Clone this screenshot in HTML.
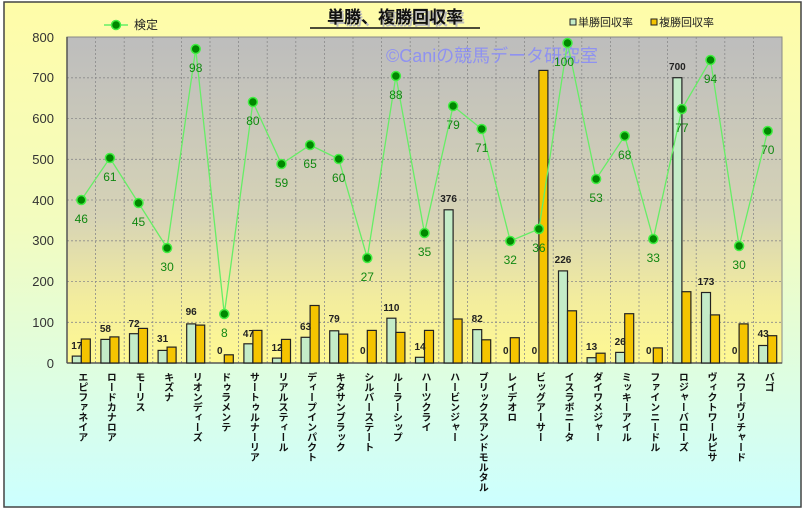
<!DOCTYPE html>
<html><head><meta charset="utf-8"><style>
body{margin:0;width:805px;height:509px;overflow:hidden;background:#fff}
text{font-family:"Liberation Sans","Noto Sans CJK JP",sans-serif}
</style></head><body>
<svg width="805" height="509" viewBox="0 0 805 509" xmlns="http://www.w3.org/2000/svg">
<defs>
<linearGradient id="bg" x1="0" y1="0" x2="0" y2="1"><stop offset="0" stop-color="#fffca8"/><stop offset="0.45" stop-color="#f2fcc0"/><stop offset="1" stop-color="#ccffff"/></linearGradient>
<linearGradient id="pa" x1="0" y1="0" x2="0" y2="1"><stop offset="0" stop-color="#bdbdbd"/><stop offset="0.55" stop-color="#d6d3b6"/><stop offset="0.8" stop-color="#f2ec9e"/><stop offset="1" stop-color="#fff992"/></linearGradient>
</defs>
<rect x="4" y="2" width="797" height="505" fill="url(#bg)" stroke="#444" stroke-width="1.5"/>
<rect x="67" y="37" width="715" height="326" fill="url(#pa)" stroke="#888" stroke-width="1"/>
<g stroke="#8a8a8a" stroke-dasharray="2,2" stroke-width="0.8">
<line x1="67" y1="77.8" x2="782" y2="77.8"/><line x1="67" y1="118.5" x2="782" y2="118.5"/><line x1="67" y1="159.3" x2="782" y2="159.3"/><line x1="67" y1="200" x2="782" y2="200"/><line x1="67" y1="240.8" x2="782" y2="240.8"/><line x1="67" y1="281.5" x2="782" y2="281.5"/><line x1="67" y1="322.3" x2="782" y2="322.3"/>
<line x1="95.6" y1="37" x2="95.6" y2="363"/><line x1="124.2" y1="37" x2="124.2" y2="363"/><line x1="152.8" y1="37" x2="152.8" y2="363"/><line x1="181.4" y1="37" x2="181.4" y2="363"/><line x1="210" y1="37" x2="210" y2="363"/><line x1="238.6" y1="37" x2="238.6" y2="363"/><line x1="267.2" y1="37" x2="267.2" y2="363"/><line x1="295.8" y1="37" x2="295.8" y2="363"/><line x1="324.4" y1="37" x2="324.4" y2="363"/><line x1="353" y1="37" x2="353" y2="363"/><line x1="381.6" y1="37" x2="381.6" y2="363"/><line x1="410.2" y1="37" x2="410.2" y2="363"/><line x1="438.8" y1="37" x2="438.8" y2="363"/><line x1="467.4" y1="37" x2="467.4" y2="363"/><line x1="496" y1="37" x2="496" y2="363"/><line x1="524.6" y1="37" x2="524.6" y2="363"/><line x1="553.2" y1="37" x2="553.2" y2="363"/><line x1="581.8" y1="37" x2="581.8" y2="363"/><line x1="610.4" y1="37" x2="610.4" y2="363"/><line x1="639" y1="37" x2="639" y2="363"/><line x1="667.6" y1="37" x2="667.6" y2="363"/><line x1="696.2" y1="37" x2="696.2" y2="363"/><line x1="724.8" y1="37" x2="724.8" y2="363"/><line x1="753.4" y1="37" x2="753.4" y2="363"/>
</g>
<line x1="67" y1="37" x2="67" y2="363" stroke="#555" stroke-width="1.5"/>
<line x1="67" y1="363" x2="782" y2="363" stroke="#555" stroke-width="1.5"/>
<g font-size="13" fill="#333" text-anchor="end">
<text x="54" y="42">800</text><text x="54" y="82">700</text><text x="54" y="123">600</text><text x="54" y="164">500</text><text x="54" y="205">400</text><text x="54" y="245">300</text><text x="54" y="286">200</text><text x="54" y="327">100</text><text x="54" y="368">0</text>
</g>
<text x="386" y="62" font-size="18" fill="#8f92f0" textLength="212" lengthAdjust="spacingAndGlyphs">©Caniの競馬データ研究室</text>
<g stroke="#222" stroke-width="1.2">
<g fill="#c4ecc8">
<rect x="72.3" y="356.1" width="9" height="6.9"/><rect x="100.9" y="339.4" width="9" height="23.6"/><rect x="129.5" y="333.7" width="9" height="29.3"/><rect x="158.1" y="350.4" width="9" height="12.6"/><rect x="186.7" y="323.9" width="9" height="39.1"/><rect x="243.9" y="343.8" width="9" height="19.2"/><rect x="272.5" y="358.1" width="9" height="4.9"/><rect x="301.1" y="337.3" width="9" height="25.7"/><rect x="329.7" y="330.8" width="9" height="32.2"/><rect x="386.9" y="318.2" width="9" height="44.8"/><rect x="415.5" y="357.3" width="9" height="5.7"/><rect x="444.1" y="209.8" width="9" height="153.2"/><rect x="472.7" y="329.6" width="9" height="33.4"/><rect x="558.5" y="270.9" width="9" height="92.1"/><rect x="587.1" y="357.7" width="9" height="5.3"/><rect x="615.7" y="352.4" width="9" height="10.6"/><rect x="672.9" y="77.7" width="9" height="285.3"/><rect x="701.5" y="292.5" width="9" height="70.5"/><rect x="758.7" y="345.5" width="9" height="17.5"/>
</g>
<g fill="#f5c400">
<rect x="81.3" y="339" width="9" height="24"/><rect x="109.9" y="336.9" width="9" height="26.1"/><rect x="138.5" y="328.4" width="9" height="34.6"/><rect x="167.1" y="347.1" width="9" height="15.9"/><rect x="195.7" y="325.1" width="9" height="37.9"/><rect x="224.3" y="354.8" width="9" height="8.2"/><rect x="252.9" y="330.4" width="9" height="32.6"/><rect x="281.5" y="339.4" width="9" height="23.6"/><rect x="310.1" y="305.5" width="9" height="57.5"/><rect x="338.7" y="334.1" width="9" height="28.9"/><rect x="367.3" y="330.4" width="9" height="32.6"/><rect x="395.9" y="332.4" width="9" height="30.6"/><rect x="424.5" y="330.4" width="9" height="32.6"/><rect x="453.1" y="319" width="9" height="44"/><rect x="481.7" y="339.8" width="9" height="23.2"/><rect x="510.3" y="337.7" width="9" height="25.3"/><rect x="538.9" y="70.4" width="9" height="292.6"/><rect x="567.5" y="310.8" width="9" height="52.2"/><rect x="596.1" y="353.2" width="9" height="9.8"/><rect x="624.7" y="313.7" width="9" height="49.3"/><rect x="653.3" y="347.9" width="9" height="15.1"/><rect x="681.9" y="291.7" width="9" height="71.3"/><rect x="710.5" y="314.9" width="9" height="48.1"/><rect x="739.1" y="323.9" width="9" height="39.1"/><rect x="767.7" y="335.7" width="9" height="27.3"/>
</g>
</g>
<g font-size="10" font-weight="bold" fill="#222" text-anchor="middle">
<text x="76.8" y="349">17</text><text x="105.4" y="332">58</text><text x="134" y="327">72</text><text x="162.6" y="342">31</text><text x="191.2" y="315">96</text><text x="219.8" y="354">0</text><text x="248.4" y="337">47</text><text x="277" y="351">12</text><text x="305.6" y="330">63</text><text x="334.2" y="322">79</text><text x="362.8" y="354">0</text><text x="391.4" y="311">110</text><text x="420" y="350">14</text><text x="448.6" y="202">376</text><text x="477.2" y="322">82</text><text x="505.8" y="354">0</text><text x="534.4" y="354">0</text><text x="563" y="263">226</text><text x="591.6" y="350">13</text><text x="620.2" y="345">26</text><text x="648.8" y="354">0</text><text x="677.4" y="70">700</text><text x="706" y="285">173</text><text x="734.6" y="354">0</text><text x="763.2" y="337">43</text>
</g>
<polyline fill="none" stroke="#66ee66" stroke-width="1.3" points="81.3,200 109.9,158 138.5,203 167.1,248 195.7,49 224.3,314 252.9,102 281.5,164 310.1,145 338.7,159 367.3,258 395.9,76 424.5,233 453.1,106 481.7,129 510.3,241 538.9,229 567.5,43 596.1,179 624.7,136 653.3,239 681.9,109 710.5,60 739.1,246 767.7,131"/>
<g fill="#008800" stroke="#44ee44" stroke-width="1.5">
<circle cx="81.3" cy="200" r="4.5"/><circle cx="109.9" cy="158" r="4.5"/><circle cx="138.5" cy="203" r="4.5"/><circle cx="167.1" cy="248" r="4.5"/><circle cx="195.7" cy="49" r="4.5"/><circle cx="224.3" cy="314" r="4.5"/><circle cx="252.9" cy="102" r="4.5"/><circle cx="281.5" cy="164" r="4.5"/><circle cx="310.1" cy="145" r="4.5"/><circle cx="338.7" cy="159" r="4.5"/><circle cx="367.3" cy="258" r="4.5"/><circle cx="395.9" cy="76" r="4.5"/><circle cx="424.5" cy="233" r="4.5"/><circle cx="453.1" cy="106" r="4.5"/><circle cx="481.7" cy="129" r="4.5"/><circle cx="510.3" cy="241" r="4.5"/><circle cx="538.9" cy="229" r="4.5"/><circle cx="567.5" cy="43" r="4.5"/><circle cx="596.1" cy="179" r="4.5"/><circle cx="624.7" cy="136" r="4.5"/><circle cx="653.3" cy="239" r="4.5"/><circle cx="681.9" cy="109" r="4.5"/><circle cx="710.5" cy="60" r="4.5"/><circle cx="739.1" cy="246" r="4.5"/><circle cx="767.7" cy="131" r="4.5"/>
</g>
<g font-size="12" fill="#118811" text-anchor="middle">
<text x="81.3" y="223">46</text><text x="109.9" y="181">61</text><text x="138.5" y="226">45</text><text x="167.1" y="271">30</text><text x="195.7" y="72">98</text><text x="224.3" y="337">8</text><text x="252.9" y="125">80</text><text x="281.5" y="187">59</text><text x="310.1" y="168">65</text><text x="338.7" y="182">60</text><text x="367.3" y="281">27</text><text x="395.9" y="99">88</text><text x="424.5" y="256">35</text><text x="453.1" y="129">79</text><text x="481.7" y="152">71</text><text x="510.3" y="264">32</text><text x="538.9" y="252">36</text><text x="564" y="66">100</text><text x="596.1" y="202">53</text><text x="624.7" y="159">68</text><text x="653.3" y="262">33</text><text x="681.9" y="132">77</text><text x="710.5" y="83">94</text><text x="739.1" y="269">30</text><text x="767.7" y="154">70</text>
</g>
<g font-size="10" fill="#111" style="writing-mode:tb;glyph-orientation-vertical:0" font-weight="bold">
<text x="81.3" y="372">エピファネイア</text><text x="109.9" y="372">ロードカナロア</text><text x="138.5" y="372">モーリス</text><text x="167.1" y="372">キズナ</text><text x="195.7" y="372">リオンディーズ</text><text x="224.3" y="372">ドゥラメンテ</text><text x="252.9" y="372">サートゥルナーリア</text><text x="281.5" y="372">リアルスティール</text><text x="310.1" y="372">ディープインパクト</text><text x="338.7" y="372">キタサンブラック</text><text x="367.3" y="372">シルバーステート</text><text x="395.9" y="372">ルーラーシップ</text><text x="424.5" y="372">ハーツクライ</text><text x="453.1" y="372">ハービンジャー</text><text x="481.7" y="372">ブリックスアンドモルタル</text><text x="510.3" y="372">レイデオロ</text><text x="538.9" y="372">ビッグアーサー</text><text x="567.5" y="372">イスラボニータ</text><text x="596.1" y="372">ダイワメジャー</text><text x="624.7" y="372">ミッキーアイル</text><text x="653.3" y="372">ファインニードル</text><text x="681.9" y="372">ロジャーバローズ</text><text x="710.5" y="372">ヴィクトワールピサ</text><text x="739.1" y="372">スワーヴリチャード</text><text x="767.7" y="372">バゴ</text>
</g>
<text x="397" y="25" font-size="17" font-weight="bold" fill="#bbb" text-anchor="middle">単勝、複勝回収率</text>
<text x="395" y="23" font-size="17" font-weight="bold" fill="#111" text-anchor="middle">単勝、複勝回収率</text>
<line x1="310" y1="28" x2="480" y2="28" stroke="#111" stroke-width="1.5"/>
<line x1="104" y1="25" x2="128" y2="25" stroke="#66ee66" stroke-width="1.5"/>
<circle cx="116" cy="25" r="4.5" fill="#008800" stroke="#44ee44" stroke-width="1.5"/>
<text x="134" y="29" font-size="12" fill="#222">検定</text>
<rect x="570" y="19" width="6" height="6" fill="#c4ecc8" stroke="#222"/>
<text x="578" y="26" font-size="11" fill="#222">単勝回収率</text>
<rect x="651" y="19" width="6" height="6" fill="#f5c400" stroke="#222"/>
<text x="659" y="26" font-size="11" fill="#222">複勝回収率</text>
</svg>
</body></html>
